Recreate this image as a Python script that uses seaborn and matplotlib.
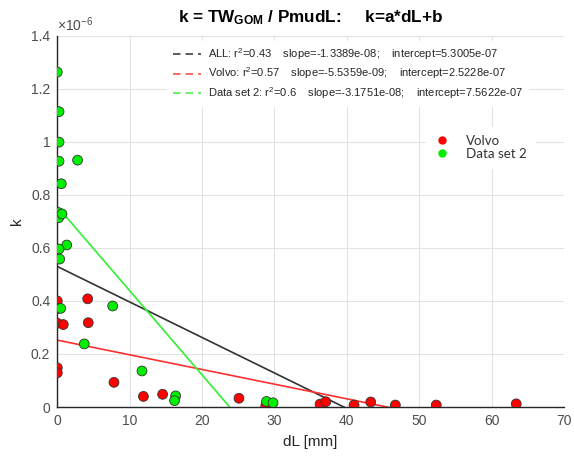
import numpy as np
import pandas as pd
import seaborn as sns
import matplotlib
matplotlib.use("Agg")
import matplotlib.pyplot as plt
from matplotlib.lines import Line2D
from matplotlib.ticker import FuncFormatter

# ---- data -------------------------------------------------------------
volvo_dL = [0.0, 0.1, 4.2, 0.0, 0.83, 4.28, 0.0, 0.0, 7.83, 11.9,
            14.55, 25.1, 28.8, 36.3, 37.1, 41.0, 43.3, 46.7, 52.35, 63.4]
volvo_k = [0.400e-6, 0.372e-6, 0.408e-6, 0.316e-6, 0.311e-6, 0.318e-6,
           0.148e-6, 0.129e-6, 0.093e-6, 0.040e-6, 0.048e-6, 0.033e-6,
           0.004e-6, 0.011e-6, 0.020e-6, 0.0075e-6, 0.019e-6, 0.0075e-6,
           0.0075e-6, 0.012e-6]

set2_dL = [0.0, 0.24, 0.24, 0.24, 2.8, 0.55, 0.2, 0.2, 0.65, 1.3,
           0.24, 0.33, 0.47, 7.65, 3.73, 11.7, 16.35, 16.2, 28.9, 29.8]
set2_k = [1.263e-6, 1.114e-6, 0.999e-6, 0.927e-6, 0.931e-6, 0.842e-6,
          0.733e-6, 0.714e-6, 0.728e-6, 0.611e-6, 0.596e-6, 0.558e-6,
          0.372e-6, 0.381e-6, 0.238e-6, 0.136e-6, 0.042e-6, 0.024e-6,
          0.021e-6, 0.016e-6]

fit_names = ["ALL", "Volvo", "Data set 2"]
fit_r2 = ["0.43", "0.57", "0.6"]
fit_slope = [-1.3389e-08, -5.5359e-09, -3.1751e-08]
fit_intercept = [5.3005e-07, 2.5228e-07, 7.5622e-07]

group_names = ["Volvo", "Data set 2"]
x_ticks = [0, 10, 20, 30, 40, 50, 60, 70]
y_ticks = [0, 0.2e-6, 0.4e-6, 0.6e-6, 0.8e-6, 1.0e-6, 1.2e-6, 1.4e-6]

# ---- style ------------------------------------------------------------
sns.set_style("whitegrid")
plt.rcParams["font.family"] = ["Liberation Sans", "DejaVu Sans"]
plt.rcParams["mathtext.fontset"] = "custom"
plt.rcParams["mathtext.rm"] = "Liberation Sans"
plt.rcParams["mathtext.it"] = "Liberation Sans:italic"
plt.rcParams["mathtext.bf"] = "Liberation Sans:bold"

tick_grey = "#4d4d4d"
red = "#ff0000"
green = "#00ee00"
line_cols = ["#333333", "#ff3030", "#33ee33"]
legend_cols = ["#404040", "#ff5050", "#50f050"]

fig = plt.figure(figsize=(5.74, 4.62), dpi=100)
ax = fig.add_axes([0.0998, 0.119, 0.8828, 0.8035])

df = pd.DataFrame({
    "dL": volvo_dL + set2_dL,
    "k": volvo_k + set2_k,
    "group": [group_names[0]] * len(volvo_dL) + [group_names[1]] * len(set2_dL),
})

# regression lines, drawn from their fitted slope / intercept
xl = np.array([0.0, 70.0])
for name, a, b, col in zip(fit_names, fit_slope, fit_intercept, line_cols):
    sns.lineplot(x=xl, y=a * xl + b, ax=ax, color=col, lw=1.2, zorder=2)

sns.scatterplot(data=df, x="dL", y="k", hue="group",
                palette={group_names[0]: red, group_names[1]: green},
                s=50, edgecolor="#333333", linewidth=0.6, legend=False,
                ax=ax, zorder=3)

ax.set_xlim(0, 70)
ax.set_ylim(0, 1.4e-6)
ax.set_xticks(x_ticks)
ax.set_yticks(y_ticks)
ax.yaxis.set_major_formatter(FuncFormatter(lambda v, p: f"{v * 1e6:.1f}".rstrip("0").rstrip(".")))
ax.grid(True, color="#e3e3e3", lw=0.8)
ax.set_axisbelow(True)
for s in ["top", "right"]:
    ax.spines[s].set_visible(False)
for s in ["left", "bottom"]:
    ax.spines[s].set_color("#262626")
    ax.spines[s].set_linewidth(1.0)
ax.tick_params(axis="both", direction="in", length=3, width=0.8,
               color="#262626", labelsize=10, labelcolor=tick_grey, pad=5)

ax.set_xlabel("dL [mm]", fontsize=11, color="#262626", labelpad=5)
ax.set_ylabel("k", fontsize=11, color="#262626", labelpad=5)
ax.text(0.0, 1.006, r"$\times$10$^{-6}$", transform=ax.transAxes,
        fontsize=10, color=tick_grey, ha="left", va="bottom")

ax.set_title(r"k = TW$_{\mathbf{GOM}}$ / PmudL:     k=a*dL+b",
             fontsize=12.3, fontweight="bold", color="#000000", pad=10)

# fit legend
fit_handles = [Line2D([0], [0], color=c, lw=1.2, ls=(0, (4.5, 3)))
               for c in legend_cols]
fit_labels = [f"{n}: r$^{{2}}$={r}    slope={a:.4e};    intercept={b:.4e}"
              for n, r, a, b in zip(fit_names, fit_r2, fit_slope, fit_intercept)]
leg1 = ax.legend(fit_handles, fit_labels, loc="upper left",
                 bbox_to_anchor=(167 / 574, 1 - 41 / 462),
                 bbox_transform=fig.transFigure, frameon=True,
                 facecolor="white", edgecolor="white", framealpha=1,
                 fontsize=8, handlelength=2.6, handletextpad=0.55,
                 labelspacing=0.3, borderpad=0.5, borderaxespad=0)
for t in leg1.get_texts():
    t.set_color("#262626")
ax.add_artist(leg1)

# group legend
grp_handles = [Line2D([0], [0], ls="none", marker="o", ms=5,
                      markerfacecolor=c, markeredgecolor=c)
               for c in [red, green]]
leg2 = ax.legend(grp_handles, group_names, loc="upper left",
                 bbox_to_anchor=(426 / 574, 1 - 127 / 462),
                 bbox_transform=fig.transFigure, frameon=True,
                 facecolor="white", edgecolor="white", framealpha=1,
                 prop={"family": ["Lato", "DejaVu Sans"], "size": 9.6},
                 handlelength=1.2, handletextpad=1.2, labelspacing=0.05,
                 borderpad=0.6, borderaxespad=0)
for t in leg2.get_texts():
    t.set_color("#333333")

fig.savefig("out.png", dpi=100, facecolor="white")
